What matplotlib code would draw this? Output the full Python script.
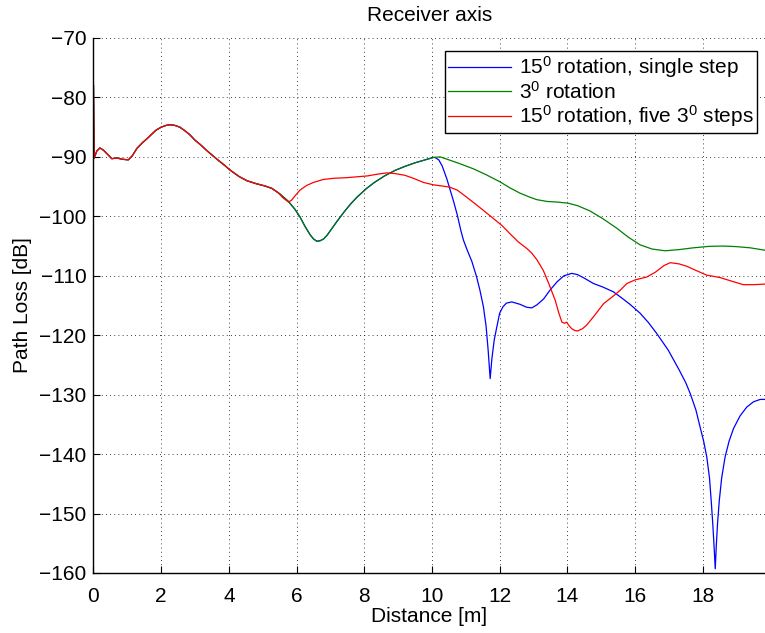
import numpy as np
import matplotlib
matplotlib.use("Agg")
import matplotlib.pyplot as plt

plt.rcParams['font.family'] = ['Liberation Sans', 'DejaVu Sans']
plt.rcParams['mathtext.fontset'] = 'custom'
plt.rcParams['mathtext.rm'] = 'Liberation Sans'
plt.rcParams['mathtext.default'] = 'regular'

# shared part of all three runs (0 .. ~5.3 m)
common_x = [0, 0.02, 0.1, 0.19, 0.3, 0.44, 0.54, 0.7, 0.85, 1.03, 1.15, 1.28,
            1.45, 1.57, 1.7, 1.85, 2.0, 2.15, 2.26, 2.4, 2.55, 2.7, 2.85, 3.0,
            3.15, 3.4, 3.65, 3.89, 4.03, 4.3, 4.53, 4.8, 5.07, 5.27]
common_y = [-78, -90.2, -89.0, -88.5, -88.9, -89.7, -90.3, -90.2, -90.4, -90.5,
            -89.8, -88.6, -87.6, -87.0, -86.3, -85.5, -85.0, -84.7, -84.6, -84.7,
            -85.0, -85.6, -86.3, -87.2, -87.9, -89.2, -90.4, -91.5, -92.2, -93.3,
            -94.0, -94.5, -94.9, -95.3]

# 3 deg rotation
green_x = [5.5, 5.76, 5.95, 6.1, 6.25, 6.4, 6.5, 6.6, 6.7, 6.8, 6.9, 7.0, 7.2,
           7.4, 7.6, 7.8, 8.07, 8.3, 8.6, 8.9, 9.2, 9.5, 9.8, 10.04, 10.24, 10.5,
           10.8, 11.22, 11.6, 12.01, 12.3, 12.6, 12.9, 13.1, 13.4, 13.7, 14.03,
           14.3, 14.67, 15.05, 15.46, 15.8, 16.15, 16.5, 16.89, 17.3, 17.72,
           18.2, 18.61, 19.0, 19.4, 19.84]
green_y = [-96.2, -97.5, -98.8, -100.1, -101.7, -103.1, -103.8, -104.2, -104.1,
           -103.8, -103.2, -102.4, -100.8, -99.3, -97.9, -96.7, -95.3, -94.3,
           -93.2, -92.3, -91.6, -91.0, -90.5, -90.1, -90.0, -90.5, -91.1, -92.0,
           -93.0, -94.2, -95.2, -96.1, -96.8, -97.2, -97.5, -97.6, -97.8, -98.2,
           -99.1, -100.4, -102.0, -103.5, -104.8, -105.5, -105.8, -105.6, -105.3,
           -105.05, -105.0, -105.1, -105.3, -105.7]

# 15 deg single step, follows the 3 deg curve up to ~10 m
blue_x = [10.09, 10.2, 10.3, 10.44, 10.55, 10.63, 10.75, 10.85, 10.93, 11.05,
          11.18, 11.32, 11.42, 11.52, 11.6, 11.66, 11.72, 11.77, 11.84, 11.91,
          12.0, 12.1, 12.2, 12.36, 12.6, 12.8, 12.95, 13.1, 13.3, 13.49, 13.7,
          13.9, 14.13, 14.3, 14.5, 14.77, 15.05, 15.36, 15.6, 15.85, 16.15, 16.4,
          16.64, 16.98, 17.3, 17.5, 17.63, 17.8, 17.92, 18.03, 18.12, 18.2,
          18.25, 18.3, 18.34, 18.37, 18.4, 18.44, 18.49, 18.56, 18.66, 18.78,
          18.91, 19.1, 19.3, 19.5, 19.7, 19.84]
blue_y = [-90.1, -90.5, -91.5, -93.7, -95.8, -97.3, -99.8, -102.3, -104.0,
          -105.8, -107.6, -110.2, -112.5, -115.2, -118.5, -122.5, -127.3, -124.0,
          -120.8, -118.8, -116.3, -115.2, -114.6, -114.4, -114.8, -115.3, -115.4,
          -114.9, -113.9, -112.4, -111.0, -110.0, -109.6, -109.8, -110.4, -111.3,
          -111.9, -112.7, -113.7, -114.8, -116.3, -117.9, -119.7, -122.5, -125.8,
          -128.0, -129.8, -132.6, -135.4, -137.9, -140.5, -144.0, -147.8, -152.0,
          -156.0, -159.3, -155.5, -151.5, -147.8, -144.0, -140.5, -137.8, -135.7,
          -133.6, -132.1, -131.2, -130.8, -130.8]

# 15 deg in five 3 deg steps
red_x = [5.45, 5.6, 5.76, 5.85, 5.95, 6.1, 6.3, 6.5, 6.79, 7.1, 7.48, 8.1, 8.4,
         8.66, 8.9, 9.2, 9.45, 9.75, 10.04, 10.3, 10.53, 10.75, 11.03, 11.3,
         11.52, 11.8, 12.06, 12.3, 12.55, 12.8, 12.95, 13.1, 13.29, 13.45, 13.64,
         13.75, 13.84, 13.92, 13.98, 14.05, 14.13, 14.22, 14.3, 14.45, 14.57,
         14.8, 15.07, 15.36, 15.55, 15.76, 16.0, 16.35, 16.6, 16.85, 17.04, 17.3,
         17.53, 17.8, 18.12, 18.51, 18.85, 19.2, 19.5, 19.84]
red_y = [-96.0, -96.9, -97.6, -97.3, -96.6, -95.6, -94.8, -94.3, -93.8, -93.6,
         -93.5, -93.2, -92.9, -92.7, -92.8, -93.1, -93.6, -94.3, -94.7, -94.9,
         -95.1, -95.6, -96.8, -98.0, -99.0, -100.3, -101.5, -102.9, -104.3,
         -105.4, -106.2, -107.3, -109.1, -111.3, -114.1, -116.3, -117.8, -118.0,
         -117.8, -118.4, -118.9, -119.2, -119.3, -118.9, -118.3, -116.7, -114.7,
         -113.4, -112.5, -111.3, -110.7, -110.2, -109.4, -108.3, -107.8, -108.0,
         -108.4, -109.1, -109.9, -110.3, -110.9, -111.5, -111.5, -111.4]

labels = ['15$^0$ rotation, single step', '3$^0$ rotation',
          '15$^0$ rotation, five 3$^0$ steps']

gx = np.array(common_x + green_x)
gy = np.array(common_y + green_y)
cut = np.searchsorted(gx, 10.09)
bx = np.concatenate([gx[:cut], blue_x])
by = np.concatenate([gy[:cut], blue_y])
rx = np.array(common_x + red_x)
ry = np.array(common_y + red_y)

fig = plt.figure(figsize=(7.65, 6.33), dpi=100)
ax = fig.add_axes([0.1222, 0.0948, 0.8778, 0.8452])

ax.plot(bx, by, color=(0, 0, 1), lw=0.9, label=labels[0])
ax.plot(gx, gy, color=(0, 0.5, 0), lw=0.9, label=labels[1])
ax.plot(rx, ry, color=(1, 0, 0), lw=0.9, label=labels[2])

ax.set_xlim(0, 19.84)
ax.set_ylim(-160, -70)
ax.set_xticks(np.arange(0, 19, 2))
ax.set_yticks(np.arange(-160, -69, 10))
ax.grid(True, color='black', linestyle=(0, (1, 4)), linewidth=0.6)
ax.tick_params(direction='in', length=5, labelsize=15)
ax.tick_params(axis='x', pad=10)
ax.tick_params(axis='y', pad=5)
ax.spines['top'].set_visible(False)
ax.spines['right'].set_visible(False)
for s in ('left', 'bottom'):
    ax.spines[s].set_linewidth(1.0)

ax.set_title('Receiver axis', fontsize=15, pad=12)
ax.set_xlabel('Distance [m]', fontsize=15, labelpad=1)
ax.set_ylabel('Path Loss [dB]', fontsize=15, labelpad=5)

leg = ax.legend(loc='upper right', bbox_to_anchor=(0.988, 0.9757), fontsize=15,
                fancybox=False, framealpha=1, edgecolor='black',
                borderpad=0.15, labelspacing=0.04, handlelength=3.0,
                handletextpad=0.4, borderaxespad=0)
leg.get_frame().set_linewidth(1.0)

fig.savefig('out.png', dpi=100)
